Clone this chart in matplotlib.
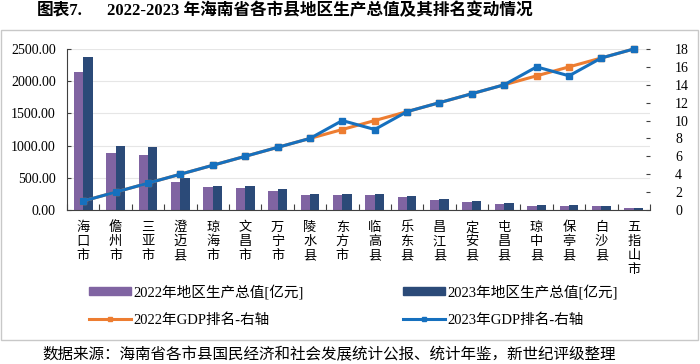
import matplotlib
matplotlib.use("Agg")
import matplotlib.pyplot as plt
from matplotlib.patches import Rectangle
from matplotlib.lines import Line2D
import numpy as np

plt.rcParams['font.family'] = ['Liberation Serif', 'Noto Sans CJK SC', 'DejaVu Sans']

cities = ["海口市", "儋州市", "三亚市", "澄迈县", "琼海市", "文昌市", "万宁市", "陵水县", "东方市",
          "临高县", "乐东县", "昌江县", "定安县", "屯昌县", "琼中县", "保亭县", "白沙县", "五指山市"]
gdp_2022 = [2145, 880, 848, 442, 360, 344, 297, 234, 234, 229, 198, 151, 120, 98, 67, 67, 62, 36]
gdp_2023 = [2370, 1000, 973, 495, 380, 380, 328, 255, 245, 250, 218, 167, 135, 104, 73, 73, 68, 38]
rank_2022 = [1, 2, 3, 4, 5, 6, 7, 8, 9, 10, 11, 12, 13, 14, 15, 16, 17, 18]
rank_2023 = [1, 2, 3, 4, 5, 6, 7, 8, 10, 9, 11, 12, 13, 14, 16, 15, 17, 18]
left_ticks = [0, 500, 1000, 1500, 2000, 2500]
right_ticks = [0, 2, 4, 6, 8, 10, 12, 14, 16, 18]

W, H = 700, 364
fig = plt.figure(figsize=(7, 3.64), dpi=100)

# frame
fig.add_artist(Rectangle((1 / W, 1 - 340 / H), 697 / W, 310 / H, transform=fig.transFigure,
                         fill=False, edgecolor='#c8c8c8', linewidth=1.0))

fig.text(37 / W, 1 - 11 / H, "图表7.", fontsize=12, fontweight='bold', va='center', ha='left')
fig.text(107 / W, 1 - 11 / H, "2022-2023 年海南省各市县地区生产总值及其排名变动情况",
         fontsize=12, fontweight='bold', va='center', ha='left')

ax = fig.add_axes([67 / W, 1 - 210 / H, 583 / W, 161 / H])
x = np.arange(len(cities))
bw = 0.29
c22, c23 = '#8064A2', '#2B4A78'
ax.bar(x - bw / 2, gdp_2022, bw, color=c22, zorder=2)
ax.bar(x + bw / 2, gdp_2023, bw, color=c23, zorder=2)
ax.set_xlim(-0.5, len(cities) - 0.5)
ax.set_ylim(0, 2500)
ax.set_yticks(left_ticks)
ax.set_yticklabels([f"{v:.2f}" for v in left_ticks], fontsize=10)
ax.grid(axis='y', color='#e6e6e6', linewidth=0.8, zorder=0)
ax.set_axisbelow(True)
for s in ['top', 'right']:
    ax.spines[s].set_visible(False)
ax.spines['left'].set_color('#404040')
ax.spines['bottom'].set_color('#404040')
ax.tick_params(axis='y', direction='in', length=3, pad=8, color='#404040')
ax.set_xticks(np.arange(len(cities) + 1) - 0.5)
ax.set_xticklabels([])
ax.tick_params(axis='x', direction='in', length=4, color='#404040')
for i, c in enumerate(cities):
    ax.text(i, -0.07, "\n".join(c), transform=ax.get_xaxis_transform(), ha='center', va='top',
            fontsize=9.5, linespacing=1.08, family=['Noto Sans CJK SC'])

ax2 = ax.twinx()
ax2.set_ylim(0, 18)
ax2.set_yticks(right_ticks)
ax2.tick_params(axis='y', direction='in', length=3, labelsize=10, pad=18, color='#404040')
for s in ['top', 'left', 'bottom', 'right']:
    ax2.spines[s].set_visible(False)
o_col, b_col = '#ED7D31', '#1670BE'
ax2.plot(x, rank_2022, color=o_col, linewidth=2.2, marker='s', markersize=4, zorder=3, clip_on=False)
ax2.plot(x, rank_2023, color=b_col, linewidth=2.2, marker='s', markersize=4, zorder=4, clip_on=False)

# legend
handles = [Rectangle((0, 0), 1, 1, color=c22), Line2D([], [], color=o_col, lw=2.2, marker='s', markersize=3),
           Rectangle((0, 0), 1, 1, color=c23), Line2D([], [], color=b_col, lw=2.2, marker='s', markersize=3)]
labels = ["2022年地区生产总值[亿元]", "2022年GDP排名-右轴", "2023年地区生产总值[亿元]", "2023年GDP排名-右轴"]
leg = fig.legend(handles, labels, ncol=2, loc='upper left', bbox_to_anchor=(76 / W, 1 - 271 / H),
                 frameon=False, handlelength=2.9, handleheight=0.45, columnspacing=6.8,
                 labelspacing=0.95, handletextpad=0.15, prop={'family': ['Liberation Serif', 'Noto Sans CJK SC'], 'size': 10.5})

fig.text(42 / W, 1 - 355 / H, "数据来源：海南省各市县国民经济和社会发展统计公报、统计年鉴，新世纪评级整理",
         fontsize=11.2, va='center', ha='left', family=['Noto Sans CJK SC'])

fig.savefig("out.png", dpi=100)
